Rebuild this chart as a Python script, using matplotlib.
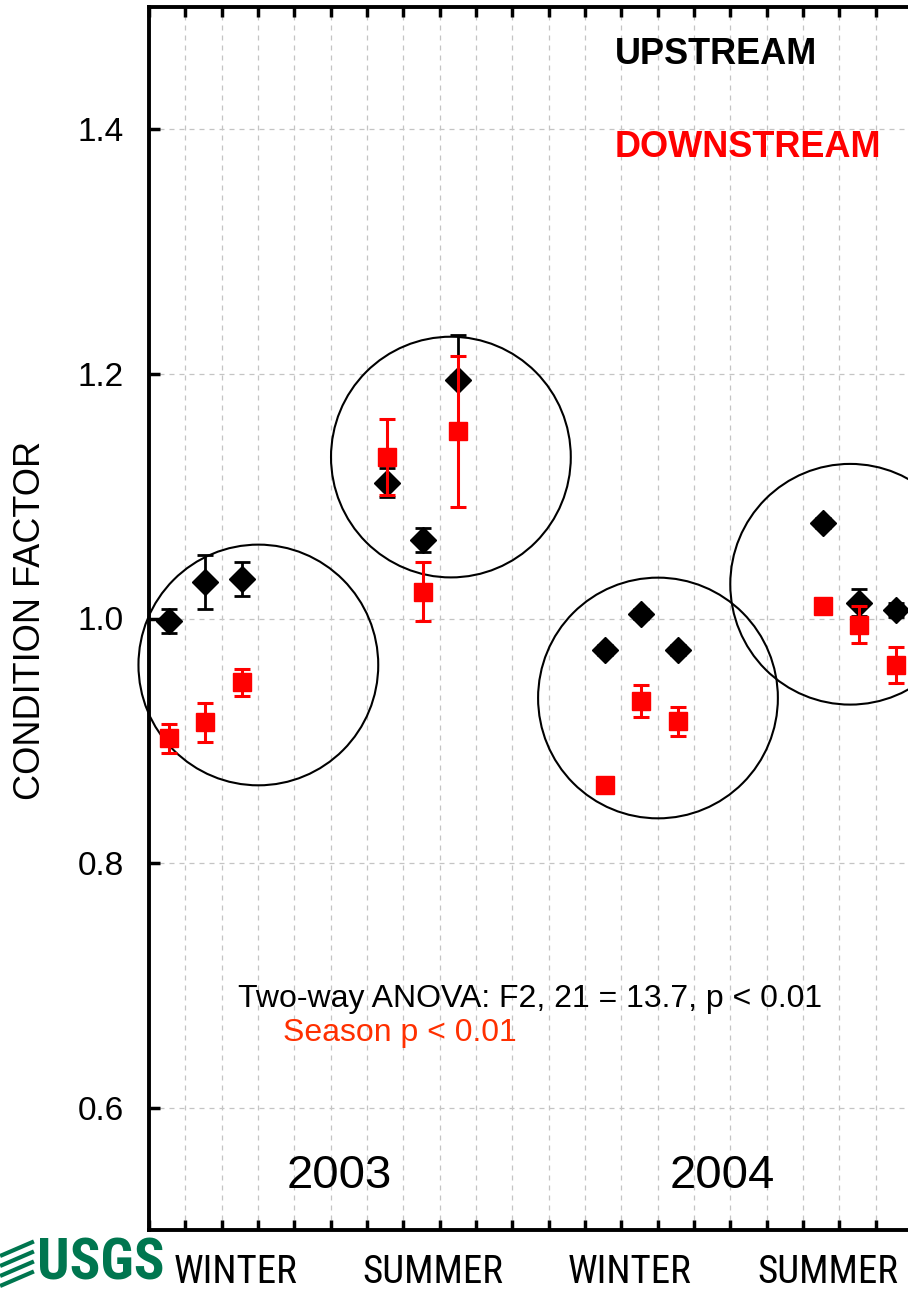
import numpy as np
import matplotlib
matplotlib.use('Agg')
import matplotlib.pyplot as plt
from matplotlib.patches import Ellipse
from matplotlib.lines import Line2D
from matplotlib import font_manager
import matplotlib.transforms as mtransforms

plt.rcParams['font.family'] = ['Liberation Sans', 'DejaVu Sans']

# sampling positions (x axis units) and values
x_pos = [0.55, 1.55, 2.55, 6.55, 7.55, 8.5, 12.55, 13.55, 14.55, 18.55, 19.55, 20.55]
upstream = [0.998, 1.030, 1.032, 1.111, 1.064, 1.195, 0.974, 1.004, 0.974, 1.078, 1.013, 1.007]
upstream_err = [0.010, 0.022, 0.014, 0.012, 0.010, 0.037, 0.004, 0.004, 0.004, 0.004, 0.011, 0.006]
downstream = [0.902, 0.915, 0.948, 1.132, 1.022, 1.153, 0.864, 0.9325, 0.916, 1.010, 0.995, 0.962]
downstream_err = [0.012, 0.016, 0.011, 0.031, 0.024, 0.062, 0.004, 0.013, 0.012, 0.004, 0.015, 0.015]

# season groups circled on the plot (centre x, centre y)
circle_x = [3.01, 8.31, 14.01, 19.3]
circle_y = [0.962, 1.132, 0.935, 1.028]
circle_rx = 3.3
circle_ry = 0.0984

season_labels = ['WINTER', 'SUMMER', 'WINTER', 'SUMMER']
season_x = [2.39, 7.82, 13.24, 18.69]
year_labels = ['2003', '2004']
year_x = [5.23, 15.77]

# look for a narrow/condensed face for the bottom labels
narrow_family, narrow_stretch, narrow_scale = 'Liberation Sans', 'normal', 0.80
fonts = font_manager.fontManager.ttflist
names = set(f.name for f in fonts)
if 'Liberation Sans Narrow' in names:
    narrow_family, narrow_scale = 'Liberation Sans Narrow', 1.0
else:
    for fam in ['Roboto Condensed', 'Open Sans Condensed', 'Noto Sans', 'Roboto', 'Open Sans', 'DejaVu Sans']:
        hit = [f for f in fonts if f.name == fam and str(f.stretch) in ('condensed', 'semi-condensed', 'extra-condensed', '75', '87.5')]
        if fam in ('Roboto Condensed', 'Open Sans Condensed') and fam in names:
            narrow_family, narrow_scale = fam, 1.0
            break
        if hit:
            narrow_family, narrow_stretch, narrow_scale = fam, 'condensed', 1.0
            break

fig = plt.figure(figsize=(9.08, 12.92), dpi=100)
ax = fig.add_axes([149 / 908, 62 / 1292, 21 * 36.33 / 908, 1223 / 1292])

ax.errorbar(x_pos, upstream, yerr=upstream_err, fmt='D', color='black', ms=13.5,
            ecolor='black', elinewidth=2, capsize=6, capthick=2, zorder=3)
ax.errorbar(x_pos, downstream, yerr=downstream_err, fmt='s', color='red', ms=13.5,
            ecolor='red', elinewidth=2.2, capsize=6, capthick=2.2, zorder=4)

for cx, cy in zip(circle_x, circle_y):
    ax.add_patch(Ellipse((cx, cy), 2 * circle_rx, 2 * circle_ry, fill=False,
                         edgecolor='black', lw=1.5, zorder=2, clip_on=False))

ax.set_xlim(0, 21)
ax.set_ylim(0.5, 1.5)
ax.set_xticks(np.arange(0, 22, 1))
ax.set_xticklabels([])
ax.set_yticks([0.6, 0.8, 1.0, 1.2, 1.4])
ax.set_yticklabels(['0.6', '0.8', '1.0', '1.2', '1.4'], fontsize=24)
ax.tick_params(axis='y', direction='in', length=8, width=2.5, pad=18, right=False)
ax.tick_params(axis='x', direction='in', length=7, width=2.5, top=True, bottom=True)
ax.grid(True, color='#c4c4c4', linestyle=(0, (4, 4)), lw=0.9)
ax.set_axisbelow(True)
for s in ['left', 'bottom', 'top']:
    ax.spines[s].set_linewidth(2.8)
ax.spines['right'].set_visible(False)

ax.text(12.83, 1.461, 'UPSTREAM', fontsize=26, fontweight='bold', color='black', va='center')
ax.text(12.83, 1.385, 'DOWNSTREAM', fontsize=26, fontweight='bold', color='red', va='center')
ax.text(2.45, 0.689, 'Two-way ANOVA: F2, 21 = 13.7, p < 0.01', fontsize=23, va='center')
ax.text(3.69, 0.6607, 'Season p < 0.01', fontsize=23, color='#ff3000', va='center')
for lab, xx in zip(year_labels, year_x):
    ax.text(xx, 0.544, lab, fontsize=34, ha='center', va='center')

trans = mtransforms.blended_transform_factory(ax.transData, ax.transAxes)
for lab, xx in zip(season_labels, season_x):
    ax.text(xx, -0.0498, lab, fontsize=28 * narrow_scale, ha='center', va='bottom',
            family=[narrow_family, 'DejaVu Sans'], stretch=narrow_stretch,
            transform=trans, clip_on=False)

fig.text(31 / 908, 1 - 620 / 1292, 'CONDITION FACTOR', rotation=90, fontsize=26,
         ha='center', va='center')

# USGS logo
green = '#00764f'
fig.text(37 / 908, 1 - 1291 / 1292, 'USGS', fontsize=41 * narrow_scale, fontweight='bold',
         color=green, family=[narrow_family, 'DejaVu Sans'], stretch=narrow_stretch,
         ha='left', va='bottom')
for k in range(4):
    y0 = 1 - (1250 + k * 10) / 1292
    fig.add_artist(Line2D([2 / 908, 32 / 908], [y0 - 0.004, y0 + 0.006], color=green, lw=3))

fig.savefig('out.png', dpi=100)
